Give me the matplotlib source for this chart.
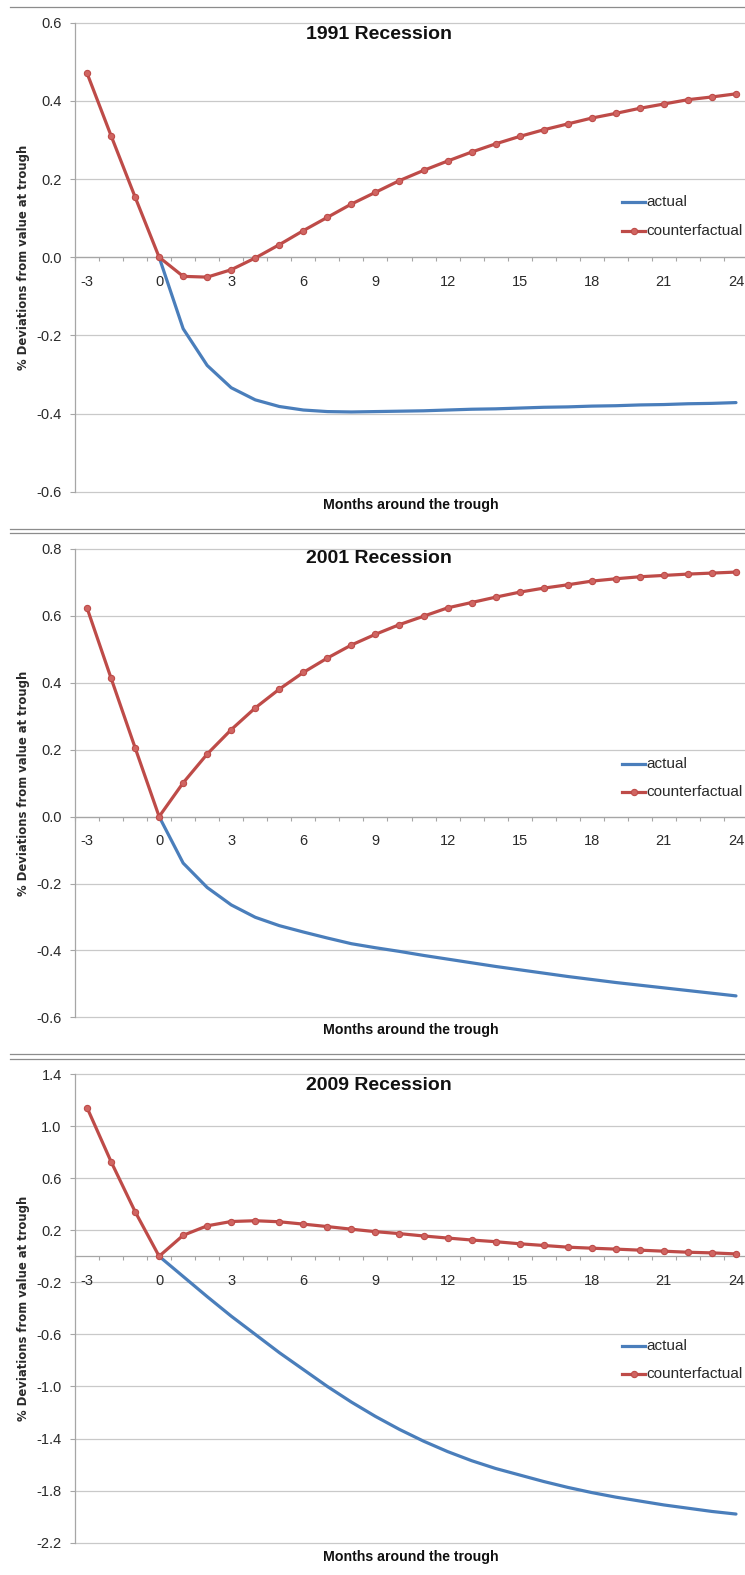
import matplotlib
matplotlib.use("Agg")
import matplotlib.pyplot as plt
from matplotlib.lines import Line2D
from matplotlib.ticker import FixedLocator, FixedFormatter

NARROW = ['Liberation Sans Narrow', 'Liberation Sans', 'DejaVu Sans']

months_cf = list(range(-3, 25))
months_act = list(range(0, 25))

titles = ["1991 Recession", "2001 Recession", "2009 Recession"]

cf_1991 = [0.471, 0.311, 0.154, 0.0, -0.049, -0.051, -0.032, -0.002, 0.032, 0.068,
           0.102, 0.136, 0.166, 0.196, 0.222, 0.246, 0.269, 0.290, 0.309, 0.326,
           0.341, 0.356, 0.368, 0.381, 0.392, 0.403, 0.410, 0.418]
act_1991 = [0.0, -0.183, -0.277, -0.334, -0.365, -0.382, -0.391, -0.395, -0.396, -0.395,
            -0.394, -0.393, -0.391, -0.389, -0.388, -0.386, -0.384, -0.383, -0.381,
            -0.380, -0.378, -0.377, -0.375, -0.374, -0.372]

cf_2001 = [0.624, 0.414, 0.206, 0.0, 0.101, 0.187, 0.260, 0.325, 0.381, 0.431,
           0.474, 0.513, 0.545, 0.574, 0.599, 0.624, 0.640, 0.656, 0.671, 0.683,
           0.693, 0.704, 0.711, 0.717, 0.721, 0.725, 0.728, 0.731]
act_2001 = [0.0, -0.139, -0.212, -0.264, -0.301, -0.326, -0.345, -0.363, -0.380, -0.392,
            -0.403, -0.415, -0.426, -0.437, -0.448, -0.458, -0.468, -0.478, -0.487,
            -0.496, -0.504, -0.512, -0.520, -0.528, -0.536]

cf_2009 = [1.142, 0.727, 0.343, 0.0, 0.161, 0.234, 0.267, 0.273, 0.265, 0.247,
           0.228, 0.208, 0.189, 0.174, 0.156, 0.140, 0.125, 0.112, 0.096, 0.083,
           0.070, 0.062, 0.055, 0.047, 0.039, 0.031, 0.026, 0.018]
act_2009 = [0.0, -0.155, -0.31, -0.46, -0.60, -0.74, -0.87, -1.00, -1.12, -1.23,
            -1.33, -1.42, -1.50, -1.57, -1.63, -1.68, -1.73, -1.775, -1.815, -1.85,
            -1.88, -1.91, -1.935, -1.96, -1.98]

yticks_1991 = [-0.6, -0.4, -0.2, 0.0, 0.2, 0.4, 0.6]
yticks_2001 = [-0.6, -0.4, -0.2, 0.0, 0.2, 0.4, 0.6, 0.8]
yticks_2009 = [-2.2, -1.8, -1.4, -1.0, -0.6, -0.2, 0.2, 0.6, 1.0, 1.4]
ytick_labels_1991 = ["-0.6", "-0.4", "-0.2", "0.0", "0.2", "0.4", "0.6"]
ytick_labels_2001 = ["-0.6", "-0.4", "-0.2", "0.0", "0.2", "0.4", "0.6", "0.8"]
ytick_labels_2009 = ["-2.2", "-1.8", "-1.4", "-1.0", "-0.6", "-0.2", "0.2", "0.6", "1.0", "1.4"]

xtick_vals = [-3, 0, 3, 6, 9, 12, 15, 18, 21, 24]
xtick_labels = ["-3", "0", "3", "6", "9", "12", "15", "18", "21", "24"]

legend_labels = ["actual", "counterfactual"]
x_label = "Months around the trough"
y_label = "% Deviations from value at trough"

BLUE = "#4a7ebb"
RED = "#be4b48"
GRID = "#c9c9c9"
AXIS = "#a6a6a6"
TXT = "#2a2a2a"

W, H = 745, 1575
fig = plt.figure(figsize=(W / 100, H / 100), dpi=100)

# panel pixel geometry: (top_px, bottom_px, ..., legend row y's, title offset, xlabel offset)
panels = [
    (22.7, 491.7, cf_1991, act_1991, yticks_1991, ytick_labels_1991, (-0.6, 0.6), 201.7, 230.7, 11.5, 13),
    (549.0, 1017.3, cf_2001, act_2001, yticks_2001, ytick_labels_2001, (-0.6, 0.8), 763.5, 791.5, 10, 13),
    (1074.0, 1542.7, cf_2009, act_2009, yticks_2009, ytick_labels_2009, (-2.2, 1.4), 1346, 1373.6, 11.5, 14),
]

left_px, right_px = 75, 748

for i, (top, bot, cf, act, yt, ytl, ylim, leg1, leg2, toff, xoff) in enumerate(panels):
    ax = fig.add_axes([left_px / W, 1 - bot / H, (right_px - left_px) / W, (bot - top) / H])
    ax.set_xlim(-3.5, 24.5)
    ax.set_ylim(*ylim)
    for s in ["top", "right"]:
        ax.spines[s].set_visible(False)
    ax.spines["left"].set_color(AXIS)
    ax.spines["left"].set_linewidth(0.9)
    ax.spines["bottom"].set_position(("data", 0))
    ax.spines["bottom"].set_color(AXIS)
    ax.spines["bottom"].set_linewidth(0.9)
    ax.set_axisbelow(True)

    ax.yaxis.set_major_locator(FixedLocator(yt))
    ax.yaxis.set_major_formatter(FixedFormatter(ytl))
    for v in yt:
        ax.axhline(v, color=GRID, linewidth=0.9, zorder=0.5, clip_on=False)
    ax.tick_params(axis="y", which="major", length=3.6, width=0.8, color=AXIS,
                   pad=6, labelsize=10.5, labelcolor=TXT)
    for lab in ax.get_yticklabels():
        lab.set_family(NARROW)

    ax.xaxis.set_major_locator(FixedLocator(xtick_vals))
    ax.xaxis.set_major_formatter(FixedFormatter(xtick_labels))
    ax.xaxis.set_minor_locator(FixedLocator([k + 0.5 for k in range(-4, 25)]))
    ax.tick_params(axis="x", which="major", length=0, pad=12.5, labelsize=10.5, labelcolor=TXT)
    ax.tick_params(axis="x", which="minor", length=3.2, width=0.8, color=AXIS, direction="out")
    for lab in ax.get_xticklabels():
        lab.set_family(NARROW)

    ax.plot(months_act, act, color=BLUE, linewidth=2.3, solid_capstyle="round",
            label=legend_labels[0], zorder=3)
    ax.plot(months_cf, cf, color=RED, linewidth=2.3, marker="o", markersize=4.5,
            markerfacecolor="#d06562", markeredgecolor=RED, markeredgewidth=0.8,
            label=legend_labels[1], zorder=4, clip_on=False)

    # legend drawn manually
    for yy, lab, col, mk in [(leg1, legend_labels[0], BLUE, None), (leg2, legend_labels[1], RED, "o")]:
        fig.add_artist(Line2D([622 / W, 645 / W], [1 - yy / H, 1 - yy / H], color=col,
                              linewidth=2.3, transform=fig.transFigure))
        if mk:
            fig.add_artist(Line2D([633.5 / W], [1 - yy / H], color=col, marker="o",
                                  markersize=4.5, markerfacecolor="#d06562",
                                  markeredgecolor=RED, markeredgewidth=0.8,
                                  transform=fig.transFigure))
        fig.text(646 / W, 1 - yy / H, lab, ha="left", va="center", fontsize=11,
                 family=NARROW, color=TXT)

    fig.text(379 / W, 1 - (top + toff) / H, titles[i], ha="center", va="center",
             fontsize=14, fontweight="bold", family=NARROW, color="#111111")
    fig.text(411 / W, 1 - (bot + xoff) / H, x_label, ha="center", va="center",
             fontsize=10.2, fontweight="bold", family=NARROW, color="#111111")
    fig.text(24 / W, 1 - ((top + bot) / 2) / H, y_label, ha="center", va="center",
             rotation=90, fontsize=8.4, fontweight="bold", family="DejaVu Sans", color=TXT)

# separator lines
SEP = "#8c8c8c"
fig.add_artist(Line2D([10 / W, 1], [1 - 6.7 / H, 1 - 6.7 / H], color=SEP, linewidth=0.9))
for yy in [529.3, 532.7, 1054.3, 1058.5]:
    fig.add_artist(Line2D([10 / W, 1], [1 - yy / H, 1 - yy / H], color=SEP, linewidth=0.9))

fig.savefig("out.png", dpi=100)
